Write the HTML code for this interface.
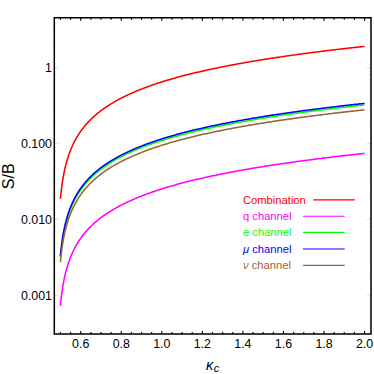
<!DOCTYPE html>
<html><head><meta charset="utf-8"><title>S/B vs kappa_c</title>
<style>html,body{margin:0;padding:0;background:#fff;}svg{display:block;}</style></head>
<body>
<svg width="374" height="374" viewBox="0 0 374 374">
<rect width="374" height="374" fill="#fff"/>
<path d="M60.43 198.79 L60.43 198.77 L60.43 198.71 L60.44 198.61 L60.46 198.46 L60.47 198.28 L60.49 198.05 L60.52 197.79 L60.55 197.48 L60.58 197.15 L60.62 196.77 L60.65 196.36 L60.70 195.92 L60.75 195.44 L60.80 194.94 L60.85 194.40 L60.91 193.84 L60.97 193.26 L61.04 192.64 L61.11 192.01 L61.19 191.35 L61.26 190.68 L61.34 189.98 L61.43 189.27 L61.52 188.55 L61.61 187.81 L61.71 187.05 L61.81 186.29 L61.92 185.51 L62.02 184.73 L62.14 183.93 L62.25 183.13 L62.37 182.32 L62.49 181.51 L62.62 180.69 L62.75 179.87 L62.89 179.05 L63.03 178.22 L63.17 177.40 L63.32 176.57 L63.47 175.74 L63.62 174.91 L63.78 174.08 L63.94 173.26 L64.10 172.43 L64.27 171.61 L64.45 170.78 L64.62 169.97 L64.80 169.15 L64.99 168.34 L65.18 167.53 L65.37 166.72 L65.56 165.92 L65.76 165.12 L65.97 164.33 L66.17 163.54 L66.39 162.76 L66.60 161.98 L66.82 161.20 L67.04 160.43 L67.27 159.67 L67.50 158.91 L67.73 158.15 L67.97 157.40 L68.21 156.65 L68.46 155.91 L68.70 155.18 L68.96 154.45 L69.21 153.72 L69.47 153.00 L69.74 152.29 L70.01 151.58 L70.28 150.88 L70.55 150.18 L70.83 149.49 L71.12 148.80 L71.40 148.12 L71.69 147.44 L71.99 146.76 L72.29 146.10 L72.59 145.43 L72.90 144.78 L73.21 144.12 L73.52 143.48 L73.84 142.83 L74.16 142.19 L74.48 141.56 L74.81 140.93 L75.14 140.31 L75.48 139.69 L75.82 139.07 L76.17 138.46 L76.51 137.86 L76.86 137.26 L77.22 136.66 L77.58 136.07 L77.94 135.48 L78.31 134.90 L78.68 134.32 L79.05 133.74 L79.43 133.17 L79.81 132.61 L80.20 132.04 L80.59 131.49 L80.98 130.93 L81.38 130.38 L81.78 129.83 L82.19 129.29 L82.60 128.75 L83.01 128.22 L83.42 127.69 L83.84 127.16 L84.27 126.63 L84.70 126.11 L85.13 125.60 L85.56 125.08 L86.00 124.57 L86.44 124.07 L86.89 123.56 L87.34 123.06 L87.80 122.57 L88.25 122.08 L88.72 121.59 L89.18 121.10 L89.65 120.62 L90.12 120.14 L90.60 119.66 L91.08 119.19 L91.57 118.72 L92.06 118.25 L92.55 117.78 L93.04 117.32 L93.54 116.86 L94.05 116.41 L94.56 115.95 L95.07 115.50 L95.58 115.06 L96.10 114.61 L96.62 114.17 L97.15 113.73 L97.68 113.29 L98.21 112.86 L98.75 112.43 L99.29 112.00 L99.84 111.57 L100.39 111.15 L100.94 110.73 L101.50 110.31 L102.06 109.89 L102.62 109.48 L103.19 109.07 L103.76 108.66 L104.34 108.25 L104.92 107.85 L105.50 107.45 L106.09 107.05 L106.68 106.65 L107.28 106.25 L107.88 105.86 L108.48 105.47 L109.09 105.08 L109.70 104.69 L110.31 104.31 L110.93 103.93 L111.55 103.55 L112.17 103.17 L112.80 102.79 L113.44 102.42 L114.07 102.05 L114.71 101.68 L115.36 101.31 L116.01 100.94 L116.66 100.58 L117.31 100.22 L117.97 99.85 L118.64 99.50 L119.30 99.14 L119.97 98.78 L120.65 98.43 L121.33 98.08 L122.01 97.73 L122.70 97.38 L123.39 97.04 L124.08 96.69 L124.78 96.35 L125.48 96.01 L126.18 95.67 L126.89 95.33 L127.61 94.99 L128.32 94.66 L129.04 94.33 L129.77 94.00 L130.50 93.67 L131.23 93.34 L131.96 93.01 L132.70 92.69 L133.45 92.36 L134.19 92.04 L134.94 91.72 L135.70 91.40 L136.46 91.08 L137.22 90.77 L137.98 90.45 L138.75 90.14 L139.53 89.83 L140.31 89.52 L141.09 89.21 L141.87 88.90 L142.66 88.60 L143.45 88.29 L144.25 87.99 L145.05 87.69 L145.85 87.39 L146.66 87.09 L147.47 86.79 L148.29 86.49 L149.11 86.20 L149.93 85.90 L150.76 85.61 L151.59 85.32 L152.42 85.03 L153.26 84.74 L154.10 84.45 L154.95 84.16 L155.80 83.88 L156.65 83.59 L157.51 83.31 L158.37 83.03 L159.24 82.75 L160.10 82.47 L160.98 82.19 L161.85 81.91 L162.73 81.64 L163.62 81.36 L164.50 81.09 L165.40 80.81 L166.29 80.54 L167.19 80.27 L168.09 80.00 L169.00 79.73 L169.91 79.46 L170.82 79.20 L171.74 78.93 L172.66 78.67 L173.59 78.40 L174.52 78.14 L175.45 77.88 L176.39 77.62 L177.33 77.36 L178.28 77.10 L179.22 76.85 L180.18 76.59 L181.13 76.33 L182.09 76.08 L183.06 75.83 L184.02 75.57 L184.99 75.32 L185.97 75.07 L186.95 74.82 L187.93 74.57 L188.92 74.32 L189.91 74.08 L190.90 73.83 L191.90 73.59 L192.90 73.34 L193.91 73.10 L194.92 72.86 L195.93 72.61 L196.95 72.37 L197.97 72.13 L198.99 71.89 L200.02 71.66 L201.05 71.42 L202.09 71.18 L203.13 70.95 L204.17 70.71 L205.22 70.48 L206.27 70.24 L207.32 70.01 L208.38 69.78 L209.45 69.55 L210.51 69.32 L211.58 69.09 L212.66 68.86 L213.73 68.63 L214.82 68.41 L215.90 68.18 L216.99 67.95 L218.08 67.73 L219.18 67.51 L220.28 67.28 L221.39 67.06 L222.49 66.84 L223.61 66.62 L224.72 66.40 L225.84 66.18 L226.96 65.96 L228.09 65.74 L229.22 65.52 L230.36 65.31 L231.50 65.09 L232.64 64.88 L233.78 64.66 L234.93 64.45 L236.09 64.23 L237.25 64.02 L238.41 63.81 L239.57 63.60 L240.74 63.39 L241.91 63.18 L243.09 62.97 L244.27 62.76 L245.45 62.55 L246.64 62.34 L247.83 62.14 L249.03 61.93 L250.23 61.73 L251.43 61.52 L252.64 61.32 L253.85 61.11 L255.07 60.91 L256.28 60.71 L257.51 60.51 L258.73 60.30 L259.96 60.10 L261.20 59.90 L262.43 59.71 L263.67 59.51 L264.92 59.31 L266.17 59.11 L267.42 58.91 L268.68 58.72 L269.94 58.52 L271.20 58.33 L272.47 58.13 L273.74 57.94 L275.02 57.74 L276.29 57.55 L277.58 57.36 L278.86 57.17 L280.16 56.98 L281.45 56.78 L282.75 56.59 L284.05 56.40 L285.36 56.22 L286.67 56.03 L287.98 55.84 L289.30 55.65 L290.62 55.46 L291.94 55.28 L293.27 55.09 L294.60 54.91 L295.94 54.72 L297.28 54.54 L298.62 54.35 L299.97 54.17 L301.32 53.99 L302.68 53.80 L304.04 53.62 L305.40 53.44 L306.77 53.26 L308.14 53.08 L309.51 52.90 L310.89 52.72 L312.27 52.54 L313.66 52.36 L315.05 52.18 L316.44 52.01 L317.84 51.83 L319.24 51.65 L320.64 51.48 L322.05 51.30 L323.46 51.13 L324.88 50.95 L326.30 50.78 L327.72 50.60 L329.15 50.43 L330.58 50.26 L332.02 50.08 L333.46 49.91 L334.90 49.74 L336.34 49.57 L337.79 49.40 L339.25 49.23 L340.71 49.06 L342.17 48.89 L343.63 48.72 L345.10 48.55 L346.58 48.38 L348.05 48.22 L349.53 48.05 L351.02 47.88 L352.51 47.72 L354.00 47.55 L355.49 47.38 L356.99 47.22 L358.50 47.05 L360.01 46.89 L361.52 46.73 L363.03 46.56 L364.55 46.40" fill="none" stroke="#ff0000" stroke-width="1.55" stroke-linejoin="round"/>
<path d="M60.43 305.79 L60.43 305.77 L60.43 305.71 L60.44 305.61 L60.46 305.46 L60.47 305.28 L60.49 305.05 L60.52 304.79 L60.55 304.48 L60.58 304.15 L60.62 303.77 L60.65 303.36 L60.70 302.92 L60.75 302.44 L60.80 301.94 L60.85 301.40 L60.91 300.84 L60.97 300.26 L61.04 299.64 L61.11 299.01 L61.19 298.35 L61.26 297.68 L61.34 296.98 L61.43 296.27 L61.52 295.55 L61.61 294.81 L61.71 294.05 L61.81 293.29 L61.92 292.51 L62.02 291.73 L62.14 290.93 L62.25 290.13 L62.37 289.32 L62.49 288.51 L62.62 287.69 L62.75 286.87 L62.89 286.05 L63.03 285.22 L63.17 284.40 L63.32 283.57 L63.47 282.74 L63.62 281.91 L63.78 281.08 L63.94 280.26 L64.10 279.43 L64.27 278.61 L64.45 277.78 L64.62 276.97 L64.80 276.15 L64.99 275.34 L65.18 274.53 L65.37 273.72 L65.56 272.92 L65.76 272.12 L65.97 271.33 L66.17 270.54 L66.39 269.76 L66.60 268.98 L66.82 268.20 L67.04 267.43 L67.27 266.67 L67.50 265.91 L67.73 265.15 L67.97 264.40 L68.21 263.65 L68.46 262.91 L68.70 262.18 L68.96 261.45 L69.21 260.72 L69.47 260.00 L69.74 259.29 L70.01 258.58 L70.28 257.88 L70.55 257.18 L70.83 256.49 L71.12 255.80 L71.40 255.12 L71.69 254.44 L71.99 253.76 L72.29 253.10 L72.59 252.43 L72.90 251.78 L73.21 251.12 L73.52 250.48 L73.84 249.83 L74.16 249.19 L74.48 248.56 L74.81 247.93 L75.14 247.31 L75.48 246.69 L75.82 246.07 L76.17 245.46 L76.51 244.86 L76.86 244.26 L77.22 243.66 L77.58 243.07 L77.94 242.48 L78.31 241.90 L78.68 241.32 L79.05 240.74 L79.43 240.17 L79.81 239.61 L80.20 239.04 L80.59 238.49 L80.98 237.93 L81.38 237.38 L81.78 236.83 L82.19 236.29 L82.60 235.75 L83.01 235.22 L83.42 234.69 L83.84 234.16 L84.27 233.63 L84.70 233.11 L85.13 232.60 L85.56 232.08 L86.00 231.57 L86.44 231.07 L86.89 230.56 L87.34 230.06 L87.80 229.57 L88.25 229.08 L88.72 228.59 L89.18 228.10 L89.65 227.62 L90.12 227.14 L90.60 226.66 L91.08 226.19 L91.57 225.72 L92.06 225.25 L92.55 224.78 L93.04 224.32 L93.54 223.86 L94.05 223.41 L94.56 222.95 L95.07 222.50 L95.58 222.06 L96.10 221.61 L96.62 221.17 L97.15 220.73 L97.68 220.29 L98.21 219.86 L98.75 219.43 L99.29 219.00 L99.84 218.57 L100.39 218.15 L100.94 217.73 L101.50 217.31 L102.06 216.89 L102.62 216.48 L103.19 216.07 L103.76 215.66 L104.34 215.25 L104.92 214.85 L105.50 214.45 L106.09 214.05 L106.68 213.65 L107.28 213.25 L107.88 212.86 L108.48 212.47 L109.09 212.08 L109.70 211.69 L110.31 211.31 L110.93 210.93 L111.55 210.55 L112.17 210.17 L112.80 209.79 L113.44 209.42 L114.07 209.05 L114.71 208.68 L115.36 208.31 L116.01 207.94 L116.66 207.58 L117.31 207.22 L117.97 206.85 L118.64 206.50 L119.30 206.14 L119.97 205.78 L120.65 205.43 L121.33 205.08 L122.01 204.73 L122.70 204.38 L123.39 204.04 L124.08 203.69 L124.78 203.35 L125.48 203.01 L126.18 202.67 L126.89 202.33 L127.61 201.99 L128.32 201.66 L129.04 201.33 L129.77 201.00 L130.50 200.67 L131.23 200.34 L131.96 200.01 L132.70 199.69 L133.45 199.36 L134.19 199.04 L134.94 198.72 L135.70 198.40 L136.46 198.08 L137.22 197.77 L137.98 197.45 L138.75 197.14 L139.53 196.83 L140.31 196.52 L141.09 196.21 L141.87 195.90 L142.66 195.60 L143.45 195.29 L144.25 194.99 L145.05 194.69 L145.85 194.39 L146.66 194.09 L147.47 193.79 L148.29 193.49 L149.11 193.20 L149.93 192.90 L150.76 192.61 L151.59 192.32 L152.42 192.03 L153.26 191.74 L154.10 191.45 L154.95 191.16 L155.80 190.88 L156.65 190.59 L157.51 190.31 L158.37 190.03 L159.24 189.75 L160.10 189.47 L160.98 189.19 L161.85 188.91 L162.73 188.64 L163.62 188.36 L164.50 188.09 L165.40 187.81 L166.29 187.54 L167.19 187.27 L168.09 187.00 L169.00 186.73 L169.91 186.46 L170.82 186.20 L171.74 185.93 L172.66 185.67 L173.59 185.40 L174.52 185.14 L175.45 184.88 L176.39 184.62 L177.33 184.36 L178.28 184.10 L179.22 183.85 L180.18 183.59 L181.13 183.33 L182.09 183.08 L183.06 182.83 L184.02 182.57 L184.99 182.32 L185.97 182.07 L186.95 181.82 L187.93 181.57 L188.92 181.32 L189.91 181.08 L190.90 180.83 L191.90 180.59 L192.90 180.34 L193.91 180.10 L194.92 179.86 L195.93 179.61 L196.95 179.37 L197.97 179.13 L198.99 178.89 L200.02 178.66 L201.05 178.42 L202.09 178.18 L203.13 177.95 L204.17 177.71 L205.22 177.48 L206.27 177.24 L207.32 177.01 L208.38 176.78 L209.45 176.55 L210.51 176.32 L211.58 176.09 L212.66 175.86 L213.73 175.63 L214.82 175.41 L215.90 175.18 L216.99 174.95 L218.08 174.73 L219.18 174.51 L220.28 174.28 L221.39 174.06 L222.49 173.84 L223.61 173.62 L224.72 173.40 L225.84 173.18 L226.96 172.96 L228.09 172.74 L229.22 172.52 L230.36 172.31 L231.50 172.09 L232.64 171.88 L233.78 171.66 L234.93 171.45 L236.09 171.23 L237.25 171.02 L238.41 170.81 L239.57 170.60 L240.74 170.39 L241.91 170.18 L243.09 169.97 L244.27 169.76 L245.45 169.55 L246.64 169.34 L247.83 169.14 L249.03 168.93 L250.23 168.73 L251.43 168.52 L252.64 168.32 L253.85 168.11 L255.07 167.91 L256.28 167.71 L257.51 167.51 L258.73 167.30 L259.96 167.10 L261.20 166.90 L262.43 166.71 L263.67 166.51 L264.92 166.31 L266.17 166.11 L267.42 165.91 L268.68 165.72 L269.94 165.52 L271.20 165.33 L272.47 165.13 L273.74 164.94 L275.02 164.74 L276.29 164.55 L277.58 164.36 L278.86 164.17 L280.16 163.98 L281.45 163.78 L282.75 163.59 L284.05 163.40 L285.36 163.22 L286.67 163.03 L287.98 162.84 L289.30 162.65 L290.62 162.46 L291.94 162.28 L293.27 162.09 L294.60 161.91 L295.94 161.72 L297.28 161.54 L298.62 161.35 L299.97 161.17 L301.32 160.99 L302.68 160.80 L304.04 160.62 L305.40 160.44 L306.77 160.26 L308.14 160.08 L309.51 159.90 L310.89 159.72 L312.27 159.54 L313.66 159.36 L315.05 159.18 L316.44 159.01 L317.84 158.83 L319.24 158.65 L320.64 158.48 L322.05 158.30 L323.46 158.13 L324.88 157.95 L326.30 157.78 L327.72 157.60 L329.15 157.43 L330.58 157.26 L332.02 157.08 L333.46 156.91 L334.90 156.74 L336.34 156.57 L337.79 156.40 L339.25 156.23 L340.71 156.06 L342.17 155.89 L343.63 155.72 L345.10 155.55 L346.58 155.38 L348.05 155.22 L349.53 155.05 L351.02 154.88 L352.51 154.72 L354.00 154.55 L355.49 154.38 L356.99 154.22 L358.50 154.05 L360.01 153.89 L361.52 153.73 L363.03 153.56 L364.55 153.40" fill="none" stroke="#ff00ff" stroke-width="1.55" stroke-linejoin="round"/>
<path d="M60.43 257.39 L60.43 257.37 L60.43 257.31 L60.44 257.21 L60.46 257.06 L60.47 256.88 L60.49 256.65 L60.52 256.39 L60.55 256.08 L60.58 255.75 L60.62 255.37 L60.65 254.96 L60.70 254.52 L60.75 254.04 L60.80 253.54 L60.85 253.00 L60.91 252.44 L60.97 251.86 L61.04 251.24 L61.11 250.61 L61.19 249.95 L61.26 249.28 L61.34 248.58 L61.43 247.87 L61.52 247.15 L61.61 246.41 L61.71 245.65 L61.81 244.89 L61.92 244.11 L62.02 243.33 L62.14 242.53 L62.25 241.73 L62.37 240.92 L62.49 240.11 L62.62 239.29 L62.75 238.47 L62.89 237.65 L63.03 236.82 L63.17 236.00 L63.32 235.17 L63.47 234.34 L63.62 233.51 L63.78 232.68 L63.94 231.86 L64.10 231.03 L64.27 230.21 L64.45 229.38 L64.62 228.57 L64.80 227.75 L64.99 226.94 L65.18 226.13 L65.37 225.32 L65.56 224.52 L65.76 223.72 L65.97 222.93 L66.17 222.14 L66.39 221.36 L66.60 220.58 L66.82 219.80 L67.04 219.03 L67.27 218.27 L67.50 217.51 L67.73 216.75 L67.97 216.00 L68.21 215.25 L68.46 214.51 L68.70 213.78 L68.96 213.05 L69.21 212.32 L69.47 211.60 L69.74 210.89 L70.01 210.18 L70.28 209.48 L70.55 208.78 L70.83 208.09 L71.12 207.40 L71.40 206.72 L71.69 206.04 L71.99 205.36 L72.29 204.70 L72.59 204.03 L72.90 203.38 L73.21 202.72 L73.52 202.08 L73.84 201.43 L74.16 200.79 L74.48 200.16 L74.81 199.53 L75.14 198.91 L75.48 198.29 L75.82 197.67 L76.17 197.06 L76.51 196.46 L76.86 195.86 L77.22 195.26 L77.58 194.67 L77.94 194.08 L78.31 193.50 L78.68 192.92 L79.05 192.34 L79.43 191.77 L79.81 191.21 L80.20 190.64 L80.59 190.09 L80.98 189.53 L81.38 188.98 L81.78 188.43 L82.19 187.89 L82.60 187.35 L83.01 186.82 L83.42 186.29 L83.84 185.76 L84.27 185.23 L84.70 184.71 L85.13 184.20 L85.56 183.68 L86.00 183.17 L86.44 182.67 L86.89 182.16 L87.34 181.66 L87.80 181.17 L88.25 180.68 L88.72 180.19 L89.18 179.70 L89.65 179.22 L90.12 178.74 L90.60 178.26 L91.08 177.79 L91.57 177.32 L92.06 176.85 L92.55 176.38 L93.04 175.92 L93.54 175.46 L94.05 175.01 L94.56 174.55 L95.07 174.10 L95.58 173.66 L96.10 173.21 L96.62 172.77 L97.15 172.33 L97.68 171.89 L98.21 171.46 L98.75 171.03 L99.29 170.60 L99.84 170.17 L100.39 169.75 L100.94 169.33 L101.50 168.91 L102.06 168.49 L102.62 168.08 L103.19 167.67 L103.76 167.26 L104.34 166.85 L104.92 166.45 L105.50 166.05 L106.09 165.65 L106.68 165.25 L107.28 164.85 L107.88 164.46 L108.48 164.07 L109.09 163.68 L109.70 163.29 L110.31 162.91 L110.93 162.53 L111.55 162.15 L112.17 161.77 L112.80 161.39 L113.44 161.02 L114.07 160.65 L114.71 160.28 L115.36 159.91 L116.01 159.54 L116.66 159.18 L117.31 158.82 L117.97 158.45 L118.64 158.10 L119.30 157.74 L119.97 157.38 L120.65 157.03 L121.33 156.68 L122.01 156.33 L122.70 155.98 L123.39 155.64 L124.08 155.29 L124.78 154.95 L125.48 154.61 L126.18 154.27 L126.89 153.93 L127.61 153.59 L128.32 153.26 L129.04 152.93 L129.77 152.60 L130.50 152.27 L131.23 151.94 L131.96 151.61 L132.70 151.29 L133.45 150.96 L134.19 150.64 L134.94 150.32 L135.70 150.00 L136.46 149.68 L137.22 149.37 L137.98 149.05 L138.75 148.74 L139.53 148.43 L140.31 148.12 L141.09 147.81 L141.87 147.50 L142.66 147.20 L143.45 146.89 L144.25 146.59 L145.05 146.29 L145.85 145.99 L146.66 145.69 L147.47 145.39 L148.29 145.09 L149.11 144.80 L149.93 144.50 L150.76 144.21 L151.59 143.92 L152.42 143.63 L153.26 143.34 L154.10 143.05 L154.95 142.76 L155.80 142.48 L156.65 142.19 L157.51 141.91 L158.37 141.63 L159.24 141.35 L160.10 141.07 L160.98 140.79 L161.85 140.51 L162.73 140.24 L163.62 139.96 L164.50 139.69 L165.40 139.41 L166.29 139.14 L167.19 138.87 L168.09 138.60 L169.00 138.33 L169.91 138.06 L170.82 137.80 L171.74 137.53 L172.66 137.27 L173.59 137.00 L174.52 136.74 L175.45 136.48 L176.39 136.22 L177.33 135.96 L178.28 135.70 L179.22 135.45 L180.18 135.19 L181.13 134.93 L182.09 134.68 L183.06 134.43 L184.02 134.17 L184.99 133.92 L185.97 133.67 L186.95 133.42 L187.93 133.17 L188.92 132.92 L189.91 132.68 L190.90 132.43 L191.90 132.19 L192.90 131.94 L193.91 131.70 L194.92 131.46 L195.93 131.21 L196.95 130.97 L197.97 130.73 L198.99 130.49 L200.02 130.26 L201.05 130.02 L202.09 129.78 L203.13 129.55 L204.17 129.31 L205.22 129.08 L206.27 128.84 L207.32 128.61 L208.38 128.38 L209.45 128.15 L210.51 127.92 L211.58 127.69 L212.66 127.46 L213.73 127.23 L214.82 127.01 L215.90 126.78 L216.99 126.55 L218.08 126.33 L219.18 126.11 L220.28 125.88 L221.39 125.66 L222.49 125.44 L223.61 125.22 L224.72 125.00 L225.84 124.78 L226.96 124.56 L228.09 124.34 L229.22 124.12 L230.36 123.91 L231.50 123.69 L232.64 123.48 L233.78 123.26 L234.93 123.05 L236.09 122.83 L237.25 122.62 L238.41 122.41 L239.57 122.20 L240.74 121.99 L241.91 121.78 L243.09 121.57 L244.27 121.36 L245.45 121.15 L246.64 120.94 L247.83 120.74 L249.03 120.53 L250.23 120.33 L251.43 120.12 L252.64 119.92 L253.85 119.71 L255.07 119.51 L256.28 119.31 L257.51 119.11 L258.73 118.90 L259.96 118.70 L261.20 118.50 L262.43 118.31 L263.67 118.11 L264.92 117.91 L266.17 117.71 L267.42 117.51 L268.68 117.32 L269.94 117.12 L271.20 116.93 L272.47 116.73 L273.74 116.54 L275.02 116.34 L276.29 116.15 L277.58 115.96 L278.86 115.77 L280.16 115.58 L281.45 115.38 L282.75 115.19 L284.05 115.00 L285.36 114.82 L286.67 114.63 L287.98 114.44 L289.30 114.25 L290.62 114.06 L291.94 113.88 L293.27 113.69 L294.60 113.51 L295.94 113.32 L297.28 113.14 L298.62 112.95 L299.97 112.77 L301.32 112.59 L302.68 112.40 L304.04 112.22 L305.40 112.04 L306.77 111.86 L308.14 111.68 L309.51 111.50 L310.89 111.32 L312.27 111.14 L313.66 110.96 L315.05 110.78 L316.44 110.61 L317.84 110.43 L319.24 110.25 L320.64 110.08 L322.05 109.90 L323.46 109.73 L324.88 109.55 L326.30 109.38 L327.72 109.20 L329.15 109.03 L330.58 108.86 L332.02 108.68 L333.46 108.51 L334.90 108.34 L336.34 108.17 L337.79 108.00 L339.25 107.83 L340.71 107.66 L342.17 107.49 L343.63 107.32 L345.10 107.15 L346.58 106.98 L348.05 106.82 L349.53 106.65 L351.02 106.48 L352.51 106.32 L354.00 106.15 L355.49 105.98 L356.99 105.82 L358.50 105.65 L360.01 105.49 L361.52 105.33 L363.03 105.16 L364.55 105.00" fill="none" stroke="#00ff00" stroke-width="1.55" stroke-linejoin="round"/>
<path d="M60.43 255.79 L60.43 255.77 L60.43 255.71 L60.44 255.61 L60.46 255.46 L60.47 255.28 L60.49 255.05 L60.52 254.79 L60.55 254.48 L60.58 254.15 L60.62 253.77 L60.65 253.36 L60.70 252.92 L60.75 252.44 L60.80 251.94 L60.85 251.40 L60.91 250.84 L60.97 250.26 L61.04 249.64 L61.11 249.01 L61.19 248.35 L61.26 247.68 L61.34 246.98 L61.43 246.27 L61.52 245.55 L61.61 244.81 L61.71 244.05 L61.81 243.29 L61.92 242.51 L62.02 241.73 L62.14 240.93 L62.25 240.13 L62.37 239.32 L62.49 238.51 L62.62 237.69 L62.75 236.87 L62.89 236.05 L63.03 235.22 L63.17 234.40 L63.32 233.57 L63.47 232.74 L63.62 231.91 L63.78 231.08 L63.94 230.26 L64.10 229.43 L64.27 228.61 L64.45 227.78 L64.62 226.97 L64.80 226.15 L64.99 225.34 L65.18 224.53 L65.37 223.72 L65.56 222.92 L65.76 222.12 L65.97 221.33 L66.17 220.54 L66.39 219.76 L66.60 218.98 L66.82 218.20 L67.04 217.43 L67.27 216.67 L67.50 215.91 L67.73 215.15 L67.97 214.40 L68.21 213.65 L68.46 212.91 L68.70 212.18 L68.96 211.45 L69.21 210.72 L69.47 210.00 L69.74 209.29 L70.01 208.58 L70.28 207.88 L70.55 207.18 L70.83 206.49 L71.12 205.80 L71.40 205.12 L71.69 204.44 L71.99 203.76 L72.29 203.10 L72.59 202.43 L72.90 201.78 L73.21 201.12 L73.52 200.48 L73.84 199.83 L74.16 199.19 L74.48 198.56 L74.81 197.93 L75.14 197.31 L75.48 196.69 L75.82 196.07 L76.17 195.46 L76.51 194.86 L76.86 194.26 L77.22 193.66 L77.58 193.07 L77.94 192.48 L78.31 191.90 L78.68 191.32 L79.05 190.74 L79.43 190.17 L79.81 189.61 L80.20 189.04 L80.59 188.49 L80.98 187.93 L81.38 187.38 L81.78 186.83 L82.19 186.29 L82.60 185.75 L83.01 185.22 L83.42 184.69 L83.84 184.16 L84.27 183.63 L84.70 183.11 L85.13 182.60 L85.56 182.08 L86.00 181.57 L86.44 181.07 L86.89 180.56 L87.34 180.06 L87.80 179.57 L88.25 179.08 L88.72 178.59 L89.18 178.10 L89.65 177.62 L90.12 177.14 L90.60 176.66 L91.08 176.19 L91.57 175.72 L92.06 175.25 L92.55 174.78 L93.04 174.32 L93.54 173.86 L94.05 173.41 L94.56 172.95 L95.07 172.50 L95.58 172.06 L96.10 171.61 L96.62 171.17 L97.15 170.73 L97.68 170.29 L98.21 169.86 L98.75 169.43 L99.29 169.00 L99.84 168.57 L100.39 168.15 L100.94 167.73 L101.50 167.31 L102.06 166.89 L102.62 166.48 L103.19 166.07 L103.76 165.66 L104.34 165.25 L104.92 164.85 L105.50 164.45 L106.09 164.05 L106.68 163.65 L107.28 163.25 L107.88 162.86 L108.48 162.47 L109.09 162.08 L109.70 161.69 L110.31 161.31 L110.93 160.93 L111.55 160.55 L112.17 160.17 L112.80 159.79 L113.44 159.42 L114.07 159.05 L114.71 158.68 L115.36 158.31 L116.01 157.94 L116.66 157.58 L117.31 157.22 L117.97 156.85 L118.64 156.50 L119.30 156.14 L119.97 155.78 L120.65 155.43 L121.33 155.08 L122.01 154.73 L122.70 154.38 L123.39 154.04 L124.08 153.69 L124.78 153.35 L125.48 153.01 L126.18 152.67 L126.89 152.33 L127.61 151.99 L128.32 151.66 L129.04 151.33 L129.77 151.00 L130.50 150.67 L131.23 150.34 L131.96 150.01 L132.70 149.69 L133.45 149.36 L134.19 149.04 L134.94 148.72 L135.70 148.40 L136.46 148.08 L137.22 147.77 L137.98 147.45 L138.75 147.14 L139.53 146.83 L140.31 146.52 L141.09 146.21 L141.87 145.90 L142.66 145.60 L143.45 145.29 L144.25 144.99 L145.05 144.69 L145.85 144.39 L146.66 144.09 L147.47 143.79 L148.29 143.49 L149.11 143.20 L149.93 142.90 L150.76 142.61 L151.59 142.32 L152.42 142.03 L153.26 141.74 L154.10 141.45 L154.95 141.16 L155.80 140.88 L156.65 140.59 L157.51 140.31 L158.37 140.03 L159.24 139.75 L160.10 139.47 L160.98 139.19 L161.85 138.91 L162.73 138.64 L163.62 138.36 L164.50 138.09 L165.40 137.81 L166.29 137.54 L167.19 137.27 L168.09 137.00 L169.00 136.73 L169.91 136.46 L170.82 136.20 L171.74 135.93 L172.66 135.67 L173.59 135.40 L174.52 135.14 L175.45 134.88 L176.39 134.62 L177.33 134.36 L178.28 134.10 L179.22 133.85 L180.18 133.59 L181.13 133.33 L182.09 133.08 L183.06 132.83 L184.02 132.57 L184.99 132.32 L185.97 132.07 L186.95 131.82 L187.93 131.57 L188.92 131.32 L189.91 131.08 L190.90 130.83 L191.90 130.59 L192.90 130.34 L193.91 130.10 L194.92 129.86 L195.93 129.61 L196.95 129.37 L197.97 129.13 L198.99 128.89 L200.02 128.66 L201.05 128.42 L202.09 128.18 L203.13 127.95 L204.17 127.71 L205.22 127.48 L206.27 127.24 L207.32 127.01 L208.38 126.78 L209.45 126.55 L210.51 126.32 L211.58 126.09 L212.66 125.86 L213.73 125.63 L214.82 125.41 L215.90 125.18 L216.99 124.95 L218.08 124.73 L219.18 124.51 L220.28 124.28 L221.39 124.06 L222.49 123.84 L223.61 123.62 L224.72 123.40 L225.84 123.18 L226.96 122.96 L228.09 122.74 L229.22 122.52 L230.36 122.31 L231.50 122.09 L232.64 121.88 L233.78 121.66 L234.93 121.45 L236.09 121.23 L237.25 121.02 L238.41 120.81 L239.57 120.60 L240.74 120.39 L241.91 120.18 L243.09 119.97 L244.27 119.76 L245.45 119.55 L246.64 119.34 L247.83 119.14 L249.03 118.93 L250.23 118.73 L251.43 118.52 L252.64 118.32 L253.85 118.11 L255.07 117.91 L256.28 117.71 L257.51 117.51 L258.73 117.30 L259.96 117.10 L261.20 116.90 L262.43 116.71 L263.67 116.51 L264.92 116.31 L266.17 116.11 L267.42 115.91 L268.68 115.72 L269.94 115.52 L271.20 115.33 L272.47 115.13 L273.74 114.94 L275.02 114.74 L276.29 114.55 L277.58 114.36 L278.86 114.17 L280.16 113.98 L281.45 113.78 L282.75 113.59 L284.05 113.40 L285.36 113.22 L286.67 113.03 L287.98 112.84 L289.30 112.65 L290.62 112.46 L291.94 112.28 L293.27 112.09 L294.60 111.91 L295.94 111.72 L297.28 111.54 L298.62 111.35 L299.97 111.17 L301.32 110.99 L302.68 110.80 L304.04 110.62 L305.40 110.44 L306.77 110.26 L308.14 110.08 L309.51 109.90 L310.89 109.72 L312.27 109.54 L313.66 109.36 L315.05 109.18 L316.44 109.01 L317.84 108.83 L319.24 108.65 L320.64 108.48 L322.05 108.30 L323.46 108.13 L324.88 107.95 L326.30 107.78 L327.72 107.60 L329.15 107.43 L330.58 107.26 L332.02 107.08 L333.46 106.91 L334.90 106.74 L336.34 106.57 L337.79 106.40 L339.25 106.23 L340.71 106.06 L342.17 105.89 L343.63 105.72 L345.10 105.55 L346.58 105.38 L348.05 105.22 L349.53 105.05 L351.02 104.88 L352.51 104.72 L354.00 104.55 L355.49 104.38 L356.99 104.22 L358.50 104.05 L360.01 103.89 L361.52 103.73 L363.03 103.56 L364.55 103.40" fill="none" stroke="#0000ff" stroke-width="1.55" stroke-linejoin="round"/>
<path d="M60.43 262.19 L60.43 262.17 L60.43 262.11 L60.44 262.01 L60.46 261.86 L60.47 261.68 L60.49 261.45 L60.52 261.19 L60.55 260.88 L60.58 260.55 L60.62 260.17 L60.65 259.76 L60.70 259.32 L60.75 258.84 L60.80 258.34 L60.85 257.80 L60.91 257.24 L60.97 256.66 L61.04 256.04 L61.11 255.41 L61.19 254.75 L61.26 254.08 L61.34 253.38 L61.43 252.67 L61.52 251.95 L61.61 251.21 L61.71 250.45 L61.81 249.69 L61.92 248.91 L62.02 248.13 L62.14 247.33 L62.25 246.53 L62.37 245.72 L62.49 244.91 L62.62 244.09 L62.75 243.27 L62.89 242.45 L63.03 241.62 L63.17 240.80 L63.32 239.97 L63.47 239.14 L63.62 238.31 L63.78 237.48 L63.94 236.66 L64.10 235.83 L64.27 235.01 L64.45 234.18 L64.62 233.37 L64.80 232.55 L64.99 231.74 L65.18 230.93 L65.37 230.12 L65.56 229.32 L65.76 228.52 L65.97 227.73 L66.17 226.94 L66.39 226.16 L66.60 225.38 L66.82 224.60 L67.04 223.83 L67.27 223.07 L67.50 222.31 L67.73 221.55 L67.97 220.80 L68.21 220.05 L68.46 219.31 L68.70 218.58 L68.96 217.85 L69.21 217.12 L69.47 216.40 L69.74 215.69 L70.01 214.98 L70.28 214.28 L70.55 213.58 L70.83 212.89 L71.12 212.20 L71.40 211.52 L71.69 210.84 L71.99 210.16 L72.29 209.50 L72.59 208.83 L72.90 208.18 L73.21 207.52 L73.52 206.88 L73.84 206.23 L74.16 205.59 L74.48 204.96 L74.81 204.33 L75.14 203.71 L75.48 203.09 L75.82 202.47 L76.17 201.86 L76.51 201.26 L76.86 200.66 L77.22 200.06 L77.58 199.47 L77.94 198.88 L78.31 198.30 L78.68 197.72 L79.05 197.14 L79.43 196.57 L79.81 196.01 L80.20 195.44 L80.59 194.89 L80.98 194.33 L81.38 193.78 L81.78 193.23 L82.19 192.69 L82.60 192.15 L83.01 191.62 L83.42 191.09 L83.84 190.56 L84.27 190.03 L84.70 189.51 L85.13 189.00 L85.56 188.48 L86.00 187.97 L86.44 187.47 L86.89 186.96 L87.34 186.46 L87.80 185.97 L88.25 185.48 L88.72 184.99 L89.18 184.50 L89.65 184.02 L90.12 183.54 L90.60 183.06 L91.08 182.59 L91.57 182.12 L92.06 181.65 L92.55 181.18 L93.04 180.72 L93.54 180.26 L94.05 179.81 L94.56 179.35 L95.07 178.90 L95.58 178.46 L96.10 178.01 L96.62 177.57 L97.15 177.13 L97.68 176.69 L98.21 176.26 L98.75 175.83 L99.29 175.40 L99.84 174.97 L100.39 174.55 L100.94 174.13 L101.50 173.71 L102.06 173.29 L102.62 172.88 L103.19 172.47 L103.76 172.06 L104.34 171.65 L104.92 171.25 L105.50 170.85 L106.09 170.45 L106.68 170.05 L107.28 169.65 L107.88 169.26 L108.48 168.87 L109.09 168.48 L109.70 168.09 L110.31 167.71 L110.93 167.33 L111.55 166.95 L112.17 166.57 L112.80 166.19 L113.44 165.82 L114.07 165.45 L114.71 165.08 L115.36 164.71 L116.01 164.34 L116.66 163.98 L117.31 163.62 L117.97 163.25 L118.64 162.90 L119.30 162.54 L119.97 162.18 L120.65 161.83 L121.33 161.48 L122.01 161.13 L122.70 160.78 L123.39 160.44 L124.08 160.09 L124.78 159.75 L125.48 159.41 L126.18 159.07 L126.89 158.73 L127.61 158.39 L128.32 158.06 L129.04 157.73 L129.77 157.40 L130.50 157.07 L131.23 156.74 L131.96 156.41 L132.70 156.09 L133.45 155.76 L134.19 155.44 L134.94 155.12 L135.70 154.80 L136.46 154.48 L137.22 154.17 L137.98 153.85 L138.75 153.54 L139.53 153.23 L140.31 152.92 L141.09 152.61 L141.87 152.30 L142.66 152.00 L143.45 151.69 L144.25 151.39 L145.05 151.09 L145.85 150.79 L146.66 150.49 L147.47 150.19 L148.29 149.89 L149.11 149.60 L149.93 149.30 L150.76 149.01 L151.59 148.72 L152.42 148.43 L153.26 148.14 L154.10 147.85 L154.95 147.56 L155.80 147.28 L156.65 146.99 L157.51 146.71 L158.37 146.43 L159.24 146.15 L160.10 145.87 L160.98 145.59 L161.85 145.31 L162.73 145.04 L163.62 144.76 L164.50 144.49 L165.40 144.21 L166.29 143.94 L167.19 143.67 L168.09 143.40 L169.00 143.13 L169.91 142.86 L170.82 142.60 L171.74 142.33 L172.66 142.07 L173.59 141.80 L174.52 141.54 L175.45 141.28 L176.39 141.02 L177.33 140.76 L178.28 140.50 L179.22 140.25 L180.18 139.99 L181.13 139.73 L182.09 139.48 L183.06 139.23 L184.02 138.97 L184.99 138.72 L185.97 138.47 L186.95 138.22 L187.93 137.97 L188.92 137.72 L189.91 137.48 L190.90 137.23 L191.90 136.99 L192.90 136.74 L193.91 136.50 L194.92 136.26 L195.93 136.01 L196.95 135.77 L197.97 135.53 L198.99 135.29 L200.02 135.06 L201.05 134.82 L202.09 134.58 L203.13 134.35 L204.17 134.11 L205.22 133.88 L206.27 133.64 L207.32 133.41 L208.38 133.18 L209.45 132.95 L210.51 132.72 L211.58 132.49 L212.66 132.26 L213.73 132.03 L214.82 131.81 L215.90 131.58 L216.99 131.35 L218.08 131.13 L219.18 130.91 L220.28 130.68 L221.39 130.46 L222.49 130.24 L223.61 130.02 L224.72 129.80 L225.84 129.58 L226.96 129.36 L228.09 129.14 L229.22 128.92 L230.36 128.71 L231.50 128.49 L232.64 128.28 L233.78 128.06 L234.93 127.85 L236.09 127.63 L237.25 127.42 L238.41 127.21 L239.57 127.00 L240.74 126.79 L241.91 126.58 L243.09 126.37 L244.27 126.16 L245.45 125.95 L246.64 125.74 L247.83 125.54 L249.03 125.33 L250.23 125.13 L251.43 124.92 L252.64 124.72 L253.85 124.51 L255.07 124.31 L256.28 124.11 L257.51 123.91 L258.73 123.70 L259.96 123.50 L261.20 123.30 L262.43 123.11 L263.67 122.91 L264.92 122.71 L266.17 122.51 L267.42 122.31 L268.68 122.12 L269.94 121.92 L271.20 121.73 L272.47 121.53 L273.74 121.34 L275.02 121.14 L276.29 120.95 L277.58 120.76 L278.86 120.57 L280.16 120.38 L281.45 120.18 L282.75 119.99 L284.05 119.80 L285.36 119.62 L286.67 119.43 L287.98 119.24 L289.30 119.05 L290.62 118.86 L291.94 118.68 L293.27 118.49 L294.60 118.31 L295.94 118.12 L297.28 117.94 L298.62 117.75 L299.97 117.57 L301.32 117.39 L302.68 117.20 L304.04 117.02 L305.40 116.84 L306.77 116.66 L308.14 116.48 L309.51 116.30 L310.89 116.12 L312.27 115.94 L313.66 115.76 L315.05 115.58 L316.44 115.41 L317.84 115.23 L319.24 115.05 L320.64 114.88 L322.05 114.70 L323.46 114.53 L324.88 114.35 L326.30 114.18 L327.72 114.00 L329.15 113.83 L330.58 113.66 L332.02 113.48 L333.46 113.31 L334.90 113.14 L336.34 112.97 L337.79 112.80 L339.25 112.63 L340.71 112.46 L342.17 112.29 L343.63 112.12 L345.10 111.95 L346.58 111.78 L348.05 111.62 L349.53 111.45 L351.02 111.28 L352.51 111.12 L354.00 110.95 L355.49 110.78 L356.99 110.62 L358.50 110.45 L360.01 110.29 L361.52 110.13 L363.03 109.96 L364.55 109.80" fill="none" stroke="#996633" stroke-width="1.55" stroke-linejoin="round"/>
<path d="M60.43 334.00 v-2.00 M60.43 17.75 v2.00 M70.56 334.00 v-2.00 M70.56 17.75 v2.00 M80.70 334.00 v-3.10 M80.70 17.75 v3.10 M90.84 334.00 v-2.00 M90.84 17.75 v2.00 M100.97 334.00 v-2.00 M100.97 17.75 v2.00 M111.11 334.00 v-2.00 M111.11 17.75 v2.00 M121.25 334.00 v-3.10 M121.25 17.75 v3.10 M131.39 334.00 v-2.00 M131.39 17.75 v2.00 M141.53 334.00 v-2.00 M141.53 17.75 v2.00 M151.66 334.00 v-2.00 M151.66 17.75 v2.00 M161.80 334.00 v-3.10 M161.80 17.75 v3.10 M171.94 334.00 v-2.00 M171.94 17.75 v2.00 M182.08 334.00 v-2.00 M182.08 17.75 v2.00 M192.21 334.00 v-2.00 M192.21 17.75 v2.00 M202.35 334.00 v-3.10 M202.35 17.75 v3.10 M212.49 334.00 v-2.00 M212.49 17.75 v2.00 M222.62 334.00 v-2.00 M222.62 17.75 v2.00 M232.76 334.00 v-2.00 M232.76 17.75 v2.00 M242.90 334.00 v-3.10 M242.90 17.75 v3.10 M253.04 334.00 v-2.00 M253.04 17.75 v2.00 M263.18 334.00 v-2.00 M263.18 17.75 v2.00 M273.31 334.00 v-2.00 M273.31 17.75 v2.00 M283.45 334.00 v-3.10 M283.45 17.75 v3.10 M293.59 334.00 v-2.00 M293.59 17.75 v2.00 M303.73 334.00 v-2.00 M303.73 17.75 v2.00 M313.86 334.00 v-2.00 M313.86 17.75 v2.00 M324.00 334.00 v-3.10 M324.00 17.75 v3.10 M334.14 334.00 v-2.00 M334.14 17.75 v2.00 M344.27 334.00 v-2.00 M344.27 17.75 v2.00 M354.41 334.00 v-2.00 M354.41 17.75 v2.00 M364.55 334.00 v-3.10 M364.55 17.75 v3.10" stroke="#000" stroke-width="1.1" fill="none"/>
<path d="M54.30 325.36 h1.90 M371.00 325.36 h-1.90 M54.30 318.02 h1.90 M371.00 318.02 h-1.90 M54.30 312.02 h1.90 M371.00 312.02 h-1.90 M54.30 306.94 h1.90 M371.00 306.94 h-1.90 M54.30 302.55 h1.90 M371.00 302.55 h-1.90 M54.30 298.67 h1.90 M371.00 298.67 h-1.90 M54.30 295.20 h4.20 M371.00 295.20 h-4.20 M54.30 272.38 h1.90 M371.00 272.38 h-1.90 M54.30 259.03 h1.90 M371.00 259.03 h-1.90 M54.30 249.56 h1.90 M371.00 249.56 h-1.90 M54.30 242.22 h1.90 M371.00 242.22 h-1.90 M54.30 236.22 h1.90 M371.00 236.22 h-1.90 M54.30 231.14 h1.90 M371.00 231.14 h-1.90 M54.30 226.75 h1.90 M371.00 226.75 h-1.90 M54.30 222.87 h1.90 M371.00 222.87 h-1.90 M54.30 219.40 h4.20 M371.00 219.40 h-4.20 M54.30 196.58 h1.90 M371.00 196.58 h-1.90 M54.30 183.23 h1.90 M371.00 183.23 h-1.90 M54.30 173.76 h1.90 M371.00 173.76 h-1.90 M54.30 166.42 h1.90 M371.00 166.42 h-1.90 M54.30 160.42 h1.90 M371.00 160.42 h-1.90 M54.30 155.34 h1.90 M371.00 155.34 h-1.90 M54.30 150.95 h1.90 M371.00 150.95 h-1.90 M54.30 147.07 h1.90 M371.00 147.07 h-1.90 M54.30 143.60 h4.20 M371.00 143.60 h-4.20 M54.30 120.78 h1.90 M371.00 120.78 h-1.90 M54.30 107.43 h1.90 M371.00 107.43 h-1.90 M54.30 97.96 h1.90 M371.00 97.96 h-1.90 M54.30 90.62 h1.90 M371.00 90.62 h-1.90 M54.30 84.62 h1.90 M371.00 84.62 h-1.90 M54.30 79.54 h1.90 M371.00 79.54 h-1.90 M54.30 75.15 h1.90 M371.00 75.15 h-1.90 M54.30 71.27 h1.90 M371.00 71.27 h-1.90 M54.30 67.80 h4.20 M371.00 67.80 h-4.20 M54.30 44.98 h1.90 M371.00 44.98 h-1.90 M54.30 31.63 h1.90 M371.00 31.63 h-1.90 M54.30 22.16 h1.90 M371.00 22.16 h-1.90" stroke="#777" stroke-width="0.25" fill="none"/>
<rect x="54.30" y="17.75" width="316.70" height="316.25" fill="none" stroke="#000" stroke-width="1.5"/>
<g font-family="Liberation Sans, sans-serif" font-size="12.4" fill="#000">
<text x="80.70" y="347.6" text-anchor="middle">0.6</text>
<text x="121.25" y="347.6" text-anchor="middle">0.8</text>
<text x="161.80" y="347.6" text-anchor="middle">1.0</text>
<text x="202.35" y="347.6" text-anchor="middle">1.2</text>
<text x="242.90" y="347.6" text-anchor="middle">1.4</text>
<text x="283.45" y="347.6" text-anchor="middle">1.6</text>
<text x="324.00" y="347.6" text-anchor="middle">1.8</text>
<text x="364.55" y="347.6" text-anchor="middle">2.0</text>
<text x="52" y="72.10" text-anchor="end">1</text>
<text x="52" y="147.90" text-anchor="end">0.100</text>
<text x="52" y="223.70" text-anchor="end">0.010</text>
<text x="52" y="299.50" text-anchor="end">0.001</text>
</g>
<text transform="translate(14.4 176.3) rotate(-90)" text-anchor="middle" font-family="Liberation Sans, sans-serif" font-size="16" fill="#000">S/B</text>
<text x="206" y="369.5" font-family="Liberation Sans, sans-serif" font-size="14.5" font-style="italic" fill="#000">κ<tspan font-size="11" dy="2.5" dx="0.6">c</tspan></text>
<text x="243" y="203.80" font-family="Liberation Sans, sans-serif" font-size="11.2" fill="#ff0000">Combination</text>
<path d="M313.20 199.90 h41.7" stroke="#ff0000" stroke-width="1.15" fill="none"/>
<text x="243" y="220.10" font-family="Liberation Sans, sans-serif" font-size="11.2" fill="#ff00ff">q channel</text>
<path d="M303.00 216.20 h41.7" stroke="#ff00ff" stroke-width="1.15" fill="none"/>
<text x="243" y="236.30" font-family="Liberation Sans, sans-serif" font-size="11.2" fill="#00ff00">e channel</text>
<path d="M303.00 232.40 h41.7" stroke="#00ff00" stroke-width="1.15" fill="none"/>
<text x="243" y="252.90" font-family="Liberation Sans, sans-serif" font-size="11.2" fill="#0000ff"><tspan font-style="italic">μ</tspan> channel</text>
<path d="M303.00 249.00 h41.7" stroke="#0000ff" stroke-width="1.15" fill="none"/>
<text x="243" y="269.30" font-family="Liberation Sans, sans-serif" font-size="11.2" fill="#996633"><tspan font-style="italic">ν</tspan> channel</text>
<path d="M303.00 265.40 h41.7" stroke="#996633" stroke-width="1.15" fill="none"/>
</svg>
</body></html>
